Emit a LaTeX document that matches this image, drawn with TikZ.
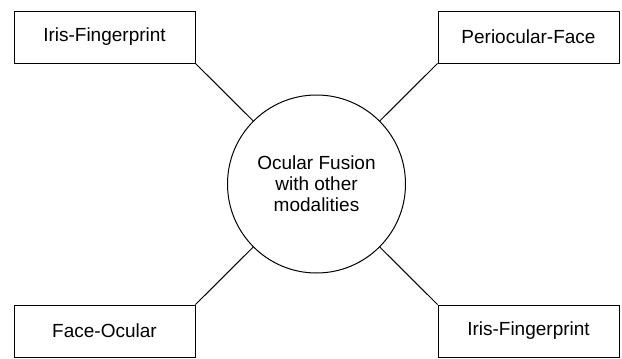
\documentclass[tikz,border=0pt]{standalone}
\usepackage{fontspec}
\setmainfont{Liberation Sans}
\usetikzlibrary{shapes,positioning}
\tikzset{
    modality/.style ={rectangle, draw, minimum width = 90.5pt, minimum height = 26pt, inner sep=0pt},
    hub/.style = {circle, draw, minimum size = 89pt, inner sep=0pt, align=center},
    link/.style = {-, draw}
}

\begin{document}
\begin{tikzpicture}[x=0.5pt,y=-0.5pt,line width=0.5pt,font=\fontsize{9.5}{10.4}\selectfont]
            \useasboundingbox (0,0) rectangle (622,359);
            \node[hub] (fusion) at (316.5,184) {Ocular Fusion\\with other\\modalities};
            % the four modality pairs
            \node[modality] (irisTop) at (104.5,37) {Iris-Fingerprint};
            \node[modality] (perioFace) at (528.5,37) {Periocular-Face};
            \node[modality] (faceOcular) at (104.5,331) {Face-Ocular};
            \node[modality] (irisBottom) at (528.5,331) {Iris-Fingerprint};
            % connect the corners to the circle
            \path[link] (irisTop.south east) edge (fusion);
            \path[link] (perioFace.south west) edge (fusion);
            \path[link] (faceOcular.north east) edge (fusion);
            \path[link] (irisBottom.north west) edge (fusion);
        \end{tikzpicture}
\end{document}
